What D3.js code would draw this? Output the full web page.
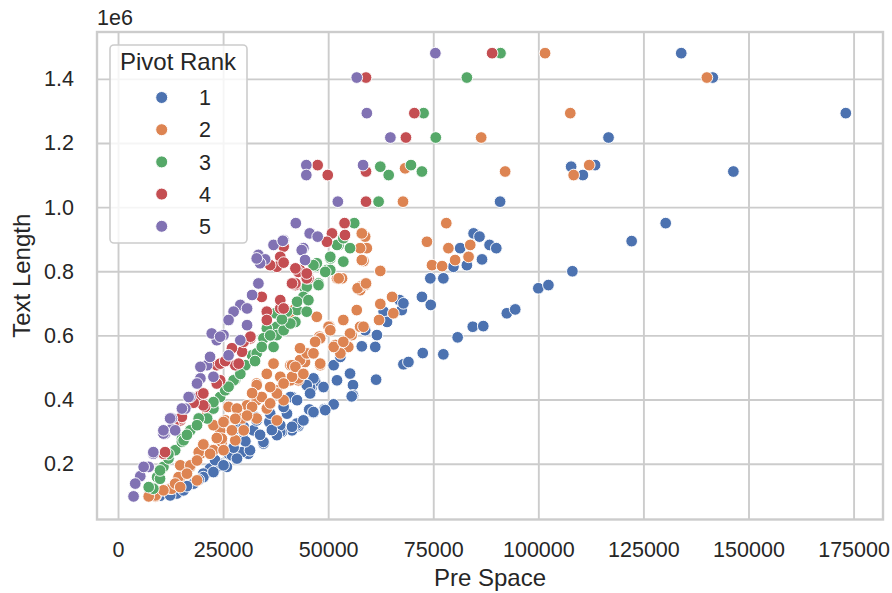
<!DOCTYPE html>
<html>
<head>
<meta charset="utf-8">
<script src="https://cdn.jsdelivr.net/npm/d3@7"></script>
<style>
  html, body { margin: 0; padding: 0; background: #ffffff; }
  svg { display: block; }
  text { font-family: "Liberation Sans", Arial, sans-serif; fill: #262626; }
</style>
</head>
<body>
<svg id="chart" width="892" height="593"></svg>
<script>
// ---------------- DATA (Pre Space, Text Length) ----------------
const categories = ["1", "2", "3", "4", "5"];
const colors = ["#4c72b0", "#dd8452", "#55a868", "#c44e52", "#8172b3"];

const rank1 = [
  [134000,1480000],[141500,1404000],[173150,1293000],[116700,1217000],[107800,1126000],[113500,1131000],
  [110600,1100000],[146400,1111000],[130300,950000],[122200,894000],[108100,800000],[90900,1017000],
  [100000,747000],[102400,757000],[92500,669000],[94500,681000],[84400,627000],[86900,629000],[80800,594000],
  [77400,541000],[72500,545000],[67900,510000],[69100,517000],[61400,462000],[55900,445000],[55900,413000],
  [55600,410000],[51300,385000],[49100,370000],[46500,359000],[45500,369000],[42900,317000],[41400,304000],
  [39000,299000],[41400,408000],[46100,439000],[46900,457000],[45700,439000],
  [72300,720000],[74400,695000],[67000,710000],[67500,679000],[67900,700000],[63200,674000],[64000,642000],
  [58800,616000],[61600,601000],[58000,566000],[61200,564000],[51300,507000],[52900,533000],[53000,548000],
  [74300,778000],[77400,778000],[79800,814000],[81400,872000],[83000,819000],[84600,918000],[86000,908000],
  [88400,882000],[90000,872000],[86600,837000],
  [46500,361000],[49300,367000],[46500,466000],[44900,445000],[41000,408000],[42600,320000],[38600,299000],
  [34600,263000],[31000,231000],[32600,346000],[29900,278000],[26300,231000],[23500,190000],[21200,174000],
  [25900,190000],[32200,304000],[29500,236000],[27100,226000],[24300,200000],[21900,185000],[20300,169000],
  [23100,211000],[12400,107000],[14000,107000],[10000,100000],[28700,309000],[38600,320000],[42500,325000],
  [40200,356000],[29800,304000],[34600,263000],[36000,330000],
  [20300,158000],[18000,138000],[15600,117000],[12400,101000],[22700,174000],[25100,195000],[28300,216000],
  [31400,242000],[34600,268000],[37800,289000],[41400,315000],[44100,335000],[29900,315000],[33000,335000],
  [36200,356000],[39400,377000],[42600,398000],[45700,419000],[48900,439000],[52100,460000],[55200,481000],
  [27500,250000],[30300,270000],[33800,290000],[36600,305000],[16400,130000],[19200,150000]
];

const rank2 = [
  [101600,1480000],[140100,1404000],[107600,1293000],[86400,1217000],[112100,1131000],[108400,1100000],
  [92100,1111000],[68300,1121000],[67800,1017000],[78100,950000],[73500,892000],
  [58800,908000],[59200,872000],[58400,832000],[52100,778000],[53300,778000],[58800,757000],[57600,741000],
  [62400,801000],[74700,819000],[77100,816000],[78600,872000],[80200,835000],[83400,845000],[83800,882000],
  [58000,918000],[57600,872000],[58000,835000],[52500,778000],[57600,752000],[56800,679000],
  [65200,720000],[65500,669000],[62400,698000],[62100,648000],[57000,747000],[59000,762000],[57600,627000],
  [55600,601000],[54800,564000],[51700,570000],[50300,629000],[47900,596000],[47300,658000],[52900,544000],
  [48100,507000],[44500,517000],[41000,507000],[45300,544000],[42900,460000],[41000,460000],[41800,679000],
  [40600,663000],[43300,523000],
  [50100,627000],[55200,606000],[58400,627000],[48100,591000],[51300,564000],[53600,580000],[44900,544000],
  [48100,512000],[41400,507000],[37000,512000],[37800,429000],[42900,466000],[41400,471000],[33000,450000],
  [33000,398000],[35400,372000],[30700,382000],[26300,377000],[29900,304000],[27900,273000],[24300,304000],
  [24700,268000],[22300,242000],[19600,231000],[17200,190000],[14800,158000],[12400,122000],[8900,98000],
  [21200,356000],[22700,320000],[25500,335000],[39400,398000],[33000,341000],
  [14400,158000],[12800,122000],[8900,101000],[14800,195000],[17200,195000],[19200,236000],[22700,242000],
  [24700,278000],[25100,330000],[28300,372000],[33000,445000],[37800,419000],
  [21900,231000],[18800,210000],[16400,169000],[13600,138000],[10800,117000],[7300,98000],[27100,304000],
  [29500,341000],[31900,377000],[34200,408000],[36200,439000],[38600,471000],[42200,502000],[46500,544000],
  [50500,616000],[53600,648000],[36200,388000],[37800,335000],[25100,242000],[18800,148000],[14800,127000],
  [39400,450000],[35400,480000],[31900,420000],[27900,340000],[23500,280000],[20300,260000],[30700,350000],
  [44100,480000],[46900,580000],[43300,560000]
];

const rank3 = [
  [91000,1480000],[83000,1404000],[72700,1293000],[75600,1217000],[62400,1126000],[64400,1100000],
  [69700,1131000],[72300,1111000],[62000,1017000],[56200,950000],
  [52500,882000],[55200,872000],[50500,840000],[53600,830000],[46900,816000],[49700,804000],[47700,762000],
  [44500,747000],[52100,882000],[53600,903000],[50500,845000],[47300,825000],[50500,804000],[47700,757000],
  [44900,752000],[44100,720000],[42600,679000],[40200,674000],[37400,669000],[44900,674000],[42200,642000],
  [37800,627000],[35400,622000],[37800,601000],[34600,591000],[37000,564000],[31900,538000],[30300,507000],
  [27900,463000],[24300,408000],[22700,372000],[21200,341000],[17200,304000],[15200,278000],[13600,242000],
  [10800,190000],[9300,158000],[8400,122000],[42600,705000],[10000,153000],[15200,268000],
  [33000,544000],[34200,564000],[39400,616000],[41000,637000],[45300,710000],[49300,798000],[46500,819000],
  [27500,460000],[25500,429000],[22700,392000],[19200,341000],[15600,273000],[12000,216000],[10000,179000],
  [7300,127000],
  [36200,600000],[39000,650000],[29100,480000],[32600,520000],[26300,440000],[18800,320000],[16400,290000],
  [12000,230000]
];

const rank4 = [
  [89000,1480000],[59000,1404000],[70500,1293000],[68500,1217000],[47500,1131000],[49900,1100000],
  [59000,1111000],[59000,1017000],[53900,950000],
  [50900,918000],[54000,913000],[49700,892000],[39400,877000],[43300,804000],[42200,757000],[45300,778000],
  [38600,845000],[37800,814000],[39400,827000],[36200,819000],[42900,798000],[44900,778000],[34200,720000],
  [35400,674000],[38600,684000],[31500,591000],[29500,549000],[23500,507000],[24300,460000],[27900,507000],
  [19600,413000],[20700,377000],[14800,335000],[10800,231000],[11200,236000],[20300,382000],[14800,341000],
  [42200,762000],
  [29900,580000],[23500,450000],[20300,419000],[15200,346000],[24300,512000],[28700,512000],[31500,596000],
  [35400,648000],[38600,710000],[39400,684000],[41400,762000],[42200,809000],[44900,793000],
  [27100,560000],[25500,520000],[18000,390000],[13200,320000]
];

const rank5 = [
  [75500,1480000],[56800,1404000],[59200,1293000],[64800,1217000],[44800,1131000],[44800,1100000],
  [58300,1131000],[52300,1017000],[42300,950000],
  [45600,918000],[47500,908000],[44100,872000],[39400,897000],[37000,882000],[39200,895000],[33400,851000],
  [35000,837000],[33800,825000],[43700,866000],[44500,835000],[33400,762000],[31900,726000],[29100,695000],
  [27500,674000],[26300,648000],[30700,684000],[30700,632000],[25100,601000],[23500,585000],[29100,585000],
  [21200,507000],[21900,533000],[26300,538000],[19600,466000],[17200,408000],[16000,372000],[12800,341000],
  [11200,294000],[12800,309000],[8400,231000],[7300,190000],[5300,161000],[3700,98000],[18800,450000],
  [22700,471000],[13600,304000],[12400,341000],[10800,294000],[8400,236000],[15200,372000],[33000,840000],
  [22300,606000],[24300,596000],[19600,502000],[16800,408000],[10800,304000],[6100,190000],[4100,138000]
];

const xTicks = [0, 25000, 50000, 75000, 100000, 125000, 150000, 175000];
const yTicks = [200000, 400000, 600000, 800000, 1000000, 1200000, 1400000];
const xLabel = "Pre Space";
const yLabel = "Text Length";
const legendTitle = "Pivot Rank";
const offsetText = "1e6";

// ---------------- LAYOUT ----------------
const svg = d3.select("#chart");
const L = 97, R = 883, T = 32, B = 519.5;
const x = d3.scaleLinear().domain([-5000, 182000]).range([L, R]);
const y = d3.scaleLinear().domain([26000, 1546000]).range([B, T]);
const gridColor = "#cccccc";

// grid + tick labels
const gx = svg.append("g").attr("transform", `translate(0,${B})`)
  .call(d3.axisBottom(x).tickValues(xTicks).tickSize(-(B - T)).tickPadding(22)
    .tickFormat(d3.format("d")));
gx.select(".domain").remove();
gx.selectAll("line").attr("stroke", gridColor).attr("stroke-width", 1.9);
gx.selectAll("text").attr("font-size", 21.5).attr("fill", "#262626");

const gy = svg.append("g").attr("transform", `translate(${L},0)`)
  .call(d3.axisLeft(y).tickValues(yTicks).tickSize(-(R - L)).tickPadding(23)
    .tickFormat(d => (d / 1e6).toFixed(1)));
gy.select(".domain").remove();
gy.selectAll("line").attr("stroke", gridColor).attr("stroke-width", 1.9);
gy.selectAll("text").attr("font-size", 21.5).attr("fill", "#262626");

// points
const series = [rank1, rank2, rank3, rank4, rank5];
series.forEach((pts, i) => {
  svg.append("g").selectAll("circle").data(pts).join("circle")
    .attr("cx", d => x(d[0])).attr("cy", d => y(d[1]))
    .attr("r", 5.85)
    .attr("fill", colors[i])
    .attr("stroke", "#ffffff").attr("stroke-width", 0.95);
});

// spines
svg.append("rect").attr("x", L).attr("y", T).attr("width", R - L).attr("height", B - T)
  .attr("fill", "none").attr("stroke", gridColor).attr("stroke-width", 2.4);

// labels
svg.append("text").attr("x", (L + R) / 2).attr("y", 586).attr("text-anchor", "middle")
  .attr("font-size", 24).text(xLabel);
svg.append("text").attr("transform", `translate(30,${(T + B) / 2}) rotate(-90)`)
  .attr("text-anchor", "middle").attr("font-size", 24).text(yLabel);
svg.append("text").attr("x", 97).attr("y", 25).attr("font-size", 21.5).text(offsetText);

// legend
const lg = svg.append("g");
lg.append("rect").attr("x", 110).attr("y", 45).attr("width", 137).attr("height", 198)
  .attr("rx", 4).attr("fill", "#ffffff").attr("fill-opacity", 0.8)
  .attr("stroke", gridColor).attr("stroke-width", 1.6);
lg.append("text").attr("x", 178).attr("y", 69.5).attr("text-anchor", "middle")
  .attr("font-size", 24).text(legendTitle);
categories.forEach((c, i) => {
  const cy = 97.5 + i * 32.2;
  lg.append("circle").attr("cx", 161.7).attr("cy", cy).attr("r", 6)
    .attr("fill", colors[i]).attr("stroke", "#ffffff").attr("stroke-width", 0.95);
  lg.append("text").attr("x", 199).attr("y", cy + 7.7).attr("font-size", 21.5).text(c);
});
</script>
</body>
</html>
